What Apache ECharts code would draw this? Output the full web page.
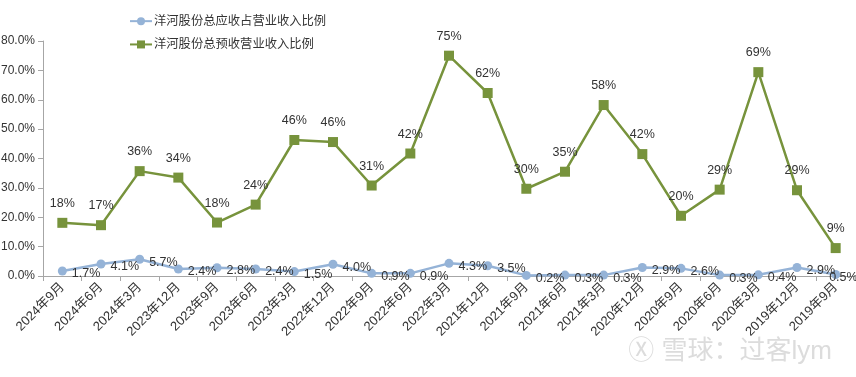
<!DOCTYPE html>
<html>
<head>
<meta charset="utf-8">
<script src="https://cdn.jsdelivr.net/npm/echarts@6/dist/echarts.min.js"></script>
<style>
html,body{margin:0;padding:0;background:#fff;}
#chart{width:856px;height:377px;}
</style>
</head>
<body>
<div id="chart"></div>
<script>
// quarters, newest first as in the source sheet
var categories = ['2024年9月','2024年6月','2024年3月','2023年12月','2023年9月','2023年6月','2023年3月','2022年12月','2022年9月','2022年6月','2022年3月','2021年12月','2021年9月','2021年6月','2021年3月','2020年12月','2020年9月','2020年6月','2020年3月','2019年12月','2019年9月'];
var receivableRatio = [1.7,4.1,5.7,2.4,2.8,2.4,1.5,4.0,0.9,0.9,4.3,3.5,0.2,0.3,0.3,2.9,2.6,0.3,0.4,2.9,0.5];
var advanceRatio = [18.1,17.3,35.7,33.5,18.2,24.3,46.3,45.6,30.8,41.7,75.0,62.3,29.7,35.5,58.2,41.5,20.5,29.4,69.4,29.2,9.5];
var advanceLabels = [18,17,36,34,18,24,46,46,31,42,75,62,30,35,58,42,20,29,69,29,9];
var seriesNames = ['洋河股份总应收占营业收入比例','洋河股份总预收营业收入比例'];

var txt = '#333333';
var font = '"Liberation Sans", "Noto Sans CJK SC", sans-serif';

var blueData = receivableRatio.map(function(v, i){
  var d = {value: v};
  if (i === receivableRatio.length - 1) d.label = {offset: [-16, 3]};
  return d;
});

var chart = echarts.init(document.getElementById('chart'));
chart.setOption({
  animation: false,
  textStyle: {fontFamily: font},
  legend: {
    orient: 'vertical',
    left: 124,
    top: 10,
    itemGap: 11,
    itemWidth: 22,
    itemHeight: 10,
    textStyle: {color: txt, fontSize: 12.3, fontFamily: font, padding: [0, 0, 0, -3]},
    data: seriesNames
  },
  grid: {left: 43, right: 1, top: 41, bottom: 101, outerBoundsMode: 'none', containLabel: false},
  xAxis: {
    type: 'category',
    data: categories,
    boundaryGap: true,
    axisLine: {lineStyle: {color: '#a6a6a6'}},
    axisTick: {show: true, interval: 0, lineStyle: {color: '#a6a6a6'}},
    axisLabel: {rotate: 45, interval: 0, color: txt, fontSize: 13, margin: 9, fontFamily: font}
  },
  yAxis: {
    type: 'value',
    min: 0, max: 80, interval: 10,
    splitLine: {show: false},
    axisLine: {show: true, lineStyle: {color: '#a6a6a6'}},
    axisTick: {show: true, lineStyle: {color: '#a6a6a6'}},
    axisLabel: {color: txt, fontSize: 12, margin: 8, formatter: function(v){ return v.toFixed(1) + '%'; }, fontFamily: font}
  },
  graphic: [{
    type: 'text',
    right: 24,
    bottom: 12,
    z: -1,
    style: {text: '\u24CD 雪球：过客lym', fill: '#dcdcdc', fontSize: 26, fontFamily: font}
  }],
  series: [{
    name: seriesNames[0],
    type: 'line',
    data: blueData,
    symbol: 'circle',
    symbolSize: 9,
    itemStyle: {color: '#95b3d7'},
    lineStyle: {color: '#95b3d7', width: 2.5},
    label: {show: true, position: 'right', offset: [0, 3], color: txt, fontSize: 12.5,
      formatter: function(p){ return p.value.toFixed(1) + '%'; }},
    z: 3
  }, {
    name: seriesNames[1],
    type: 'line',
    data: advanceRatio,
    symbol: 'rect',
    symbolSize: 10,
    itemStyle: {color: '#77933c'},
    lineStyle: {color: '#77933c', width: 2.5},
    label: {show: true, position: 'top', distance: 8, color: txt, fontSize: 12.5,
      formatter: function(p){ return advanceLabels[p.dataIndex] + '%'; }},
    z: 2
  }]
});
</script>
</body>
</html>
